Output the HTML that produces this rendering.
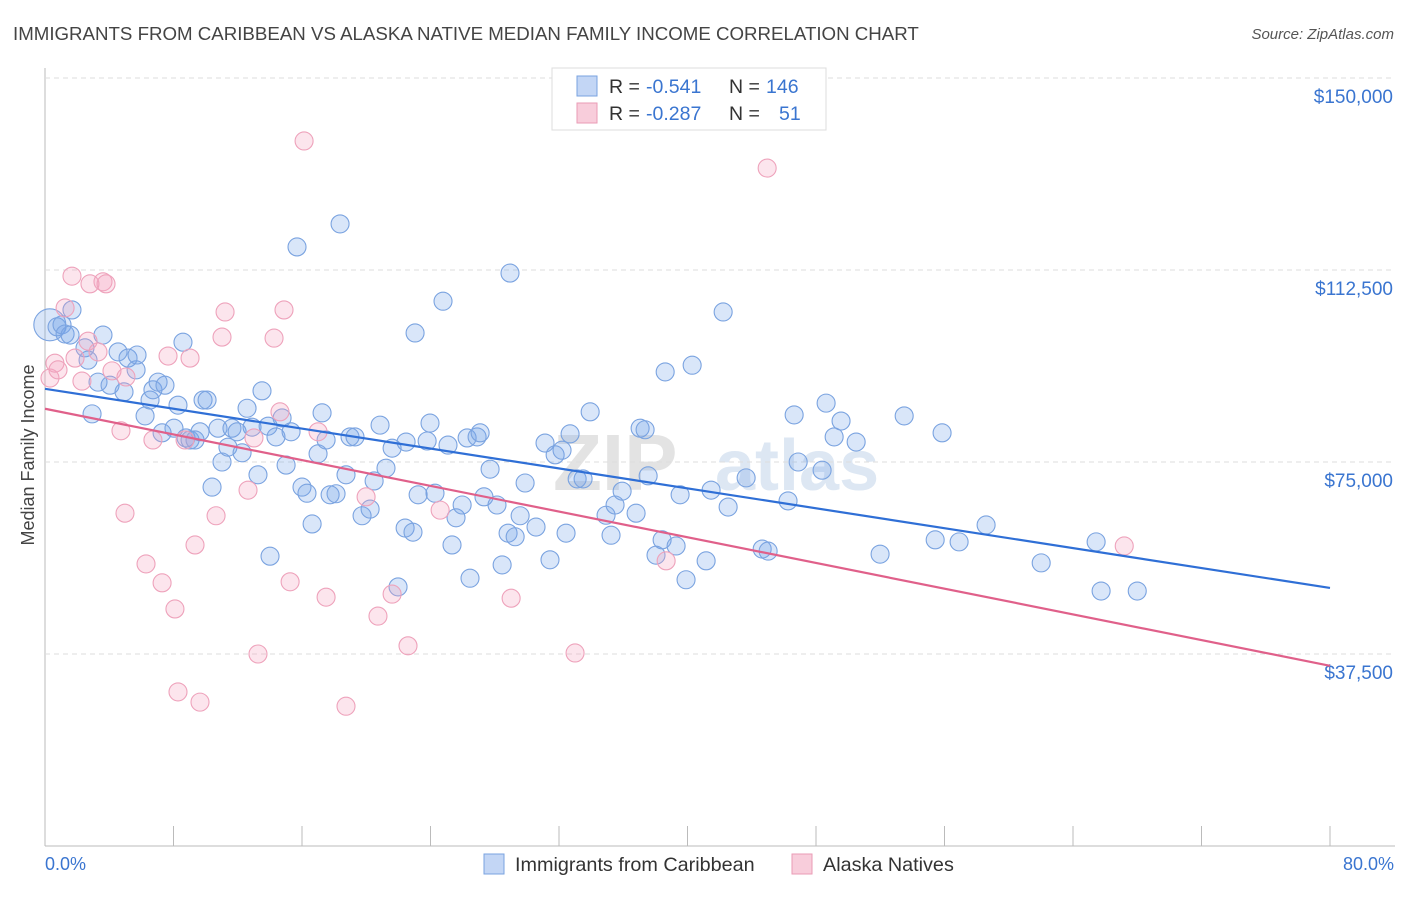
<!DOCTYPE html>
<html><head><meta charset="utf-8"><style>
body{margin:0;background:#fff;font-family:"Liberation Sans",sans-serif}
svg text{font-family:"Liberation Sans",sans-serif}
</style></head><body>
<svg id="chart" width="1406" height="892" viewBox="0 0 1406 892" xmlns="http://www.w3.org/2000/svg">
<text x="13" y="40" font-size="18.7" fill="#444">IMMIGRANTS FROM CARIBBEAN VS ALASKA NATIVE MEDIAN FAMILY INCOME CORRELATION CHART</text>
<text x="1394" y="39" font-size="15" fill="#555" text-anchor="end" font-style="italic">Source: ZipAtlas.com</text>
<g><text x="553" y="490" font-size="80" fill="#e3e3e3" font-family="Liberation Serif" font-weight="bold">ZIP</text><text x="715" y="490" font-size="72" fill="#dde7f3" font-weight="bold">atlas</text></g>
<g id="grid"></g><g id="marks"></g>
<text transform="translate(34,455) rotate(-90)" font-size="18" fill="#444" text-anchor="middle">Median Family Income</text>
<text x="45" y="870" font-size="18" fill="#3a75d0">0.0%</text>
<text x="1394" y="870" font-size="18" fill="#3a75d0" text-anchor="end">80.0%</text>
<g>
<rect x="552" y="68" width="274" height="62" fill="#fff" stroke="#ddd"/>
<rect x="577" y="76" width="20" height="20" fill="#c3d6f5" stroke="#7aa3e0"/>
<rect x="577" y="103" width="20" height="20" fill="#f8cddb" stroke="#ea9bb6"/>
<text x="609" y="93" font-size="19.5" fill="#333">R =</text>
<text x="646" y="93" font-size="19.5" fill="#3a75d0">-0.541</text>
<text x="729" y="93" font-size="19.5" fill="#333">N =</text>
<text x="766" y="93" font-size="19.5" fill="#3a75d0">146</text>
<text x="609" y="120" font-size="19.5" fill="#333">R =</text>
<text x="646" y="120" font-size="19.5" fill="#3a75d0">-0.287</text>
<text x="729" y="120" font-size="19.5" fill="#333">N =</text>
<text x="779" y="120" font-size="19.5" fill="#3a75d0">51</text>
</g>
<g>
<rect x="484" y="854" width="20" height="20" fill="#c3d6f5" stroke="#7aa3e0"/>
<text x="515" y="871" font-size="19.8" fill="#333">Immigrants from Caribbean</text>
<rect x="792" y="854" width="20" height="20" fill="#f8cddb" stroke="#ea9bb6"/>
<text x="823" y="871" font-size="19.8" fill="#333">Alaska Natives</text>
</g>
</svg>
<script>
const blueX=[0.3,0.75,1.06,1.25,1.68,1.56,2.49,2.93,2.68,3.30,3.61,4.05,4.55,4.92,5.17,5.67,5.73,6.23,6.54,6.72,7.04,7.47,7.29,8.03,8.28,8.59,8.78,9.03,9.34,9.65,9.84,10.09,10.40,10.77,11.02,11.39,11.64,11.96,12.27,12.58,12.89,13.26,13.51,13.89,14.01,14.38,14.76,15.01,15.32,15.69,16.00,16.31,16.63,17.00,17.25,17.50,17.75,18.12,18.37,18.74,18.99,19.30,19.74,20.24,20.49,20.86,21.23,21.61,21.98,22.42,22.91,22.48,23.04,23.23,23.79,23.97,24.28,24.78,25.09,25.34,25.59,25.97,26.28,26.46,26.90,27.09,27.33,27.71,28.14,28.46,28.83,28.95,29.27,29.58,29.89,30.57,31.13,31.44,31.76,32.19,32.44,32.69,33.13,33.50,33.94,34.93,35.24,35.49,35.93,36.80,37.05,37.36,37.55,38.04,38.42,38.61,39.29,39.54,39.91,40.29,41.16,41.47,42.53,42.22,43.65,44.65,45.02,46.26,46.64,46.89,48.38,48.63,49.13,49.56,50.50,51.99,53.49,55.42,55.85,56.91,58.59,62.02,65.44,65.75,68.0];
const blueY=[101.8,101.4,101.8,100.0,104.7,99.8,97.3,84.4,94.9,90.6,99.8,90.0,96.5,88.7,95.3,93.0,95.9,84.0,87.1,89.1,90.6,90.0,80.7,81.6,86.1,98.4,79.7,79.3,79.3,80.9,87.1,87.1,70.1,81.6,75.0,77.9,81.6,80.9,76.8,85.5,81.8,72.5,88.9,82.0,56.6,79.9,83.6,74.4,80.9,117.0,70.1,68.9,62.9,76.6,84.6,79.3,68.6,68.8,121.5,72.5,79.9,79.9,64.5,65.8,71.3,82.2,73.8,77.7,50.6,62.1,61.3,78.9,100.2,68.6,79.1,82.6,68.9,106.4,78.3,58.8,64.1,66.6,79.7,52.3,79.9,80.7,68.2,73.6,66.6,54.9,61.1,111.9,60.4,64.5,70.9,62.3,78.7,55.9,76.4,77.3,61.1,80.5,71.7,71.7,84.8,64.6,60.7,66.6,69.3,65.0,81.6,81.3,72.3,56.8,59.8,92.6,58.6,68.6,52.0,93.9,55.7,69.5,66.2,104.3,71.9,58.0,57.6,67.4,84.2,75.0,73.4,86.5,79.9,83.0,78.9,57.0,84.0,59.8,80.7,59.4,62.7,55.3,59.4,49.8,49.8];
const pinkX=[0.31,0.62,0.81,1.25,1.68,1.87,2.30,2.68,3.30,3.61,3.80,2.80,4.17,4.73,4.98,5.04,6.29,6.72,7.29,7.66,8.09,8.28,8.72,9.03,9.34,9.65,10.65,11.02,11.21,12.64,13.01,13.26,14.26,14.63,14.88,15.26,16.13,17.00,17.50,18.74,19.99,20.73,21.61,22.60,24.60,29.02,33.0,38.67,44.96,67.19];
const pinkY=[91.4,94.3,93.0,105.1,111.3,95.3,90.8,98.6,96.5,110.2,109.8,109.8,92.8,81.1,65.0,91.6,55.1,79.3,51.4,95.7,46.3,30.1,79.3,95.3,58.8,28.1,64.5,99.4,104.3,69.5,79.7,37.5,99.2,84.8,104.7,51.6,137.7,80.9,48.6,27.3,68.2,44.9,49.2,39.1,65.6,48.4,37.7,55.7,132.4,58.6];
const blueTrend=[89.3,50.4];
const pinkTrend=[85.4,35.2];
const yTicks=[37.5,75,112.5,150];
const yTickLabels=["$37,500","$75,000","$112,500","$150,000"];
const xTicks=[0,8,16,24,32,40,48,56,64,72,80];

const NS="http://www.w3.org/2000/svg";
const xs=v=>45+v/80*1285;
const ys=v=>846-v*5.12;
function mk(t,a,p){const e=document.createElementNS(NS,t);for(const k in a)e.setAttribute(k,a[k]);p.appendChild(e);return e;}
const grid=document.getElementById('grid'),marks=document.getElementById('marks');
mk('line',{x1:45,y1:68,x2:45,y2:846,stroke:'#bbb'},grid);
mk('line',{x1:45,y1:846,x2:1395,y2:846,stroke:'#bbb'},grid);
yTicks.forEach((v,i)=>{
 const l=mk('line',{x1:45,y1:ys(v),x2:1395,y2:ys(v),stroke:'#ddd','stroke-dasharray':'5,4'},grid);
 
 
 const t=mk('text',{x:1393,y:ys(v)+25,'font-size':19,fill:'#3a75d0','text-anchor':'end'},grid);
 t.textContent=yTickLabels[i];
 
 
});
xTicks.forEach(v=>{
 const l=mk('line',{x1:xs(v),y1:826,x2:xs(v),y2:846,stroke:'#bbb'},grid);
 
 
});
blueX.forEach((x,i)=>{
 const c=mk('circle',{cx:xs(x),cy:ys(blueY[i]),r:i===0?16:9,fill:'rgba(120,165,235,0.28)',stroke:'#7aa3e0','stroke-width':1.1},marks);
 
 
});
pinkX.forEach((x,i)=>{
 const c=mk('circle',{cx:xs(x),cy:ys(pinkY[i]),r:9,fill:'rgba(245,160,190,0.28)',stroke:'#eea2bb','stroke-width':1.1},marks);
 
 
});
const tb=mk('line',{x1:xs(0),y1:ys(blueTrend[0]),x2:xs(80),y2:ys(blueTrend[1]),stroke:'#2f6fd6','stroke-width':2.2},marks);


const tp=mk('line',{x1:xs(0),y1:ys(pinkTrend[0]),x2:xs(80),y2:ys(pinkTrend[1]),stroke:'#e0608a','stroke-width':2.2},marks);


</script>
</body></html>
